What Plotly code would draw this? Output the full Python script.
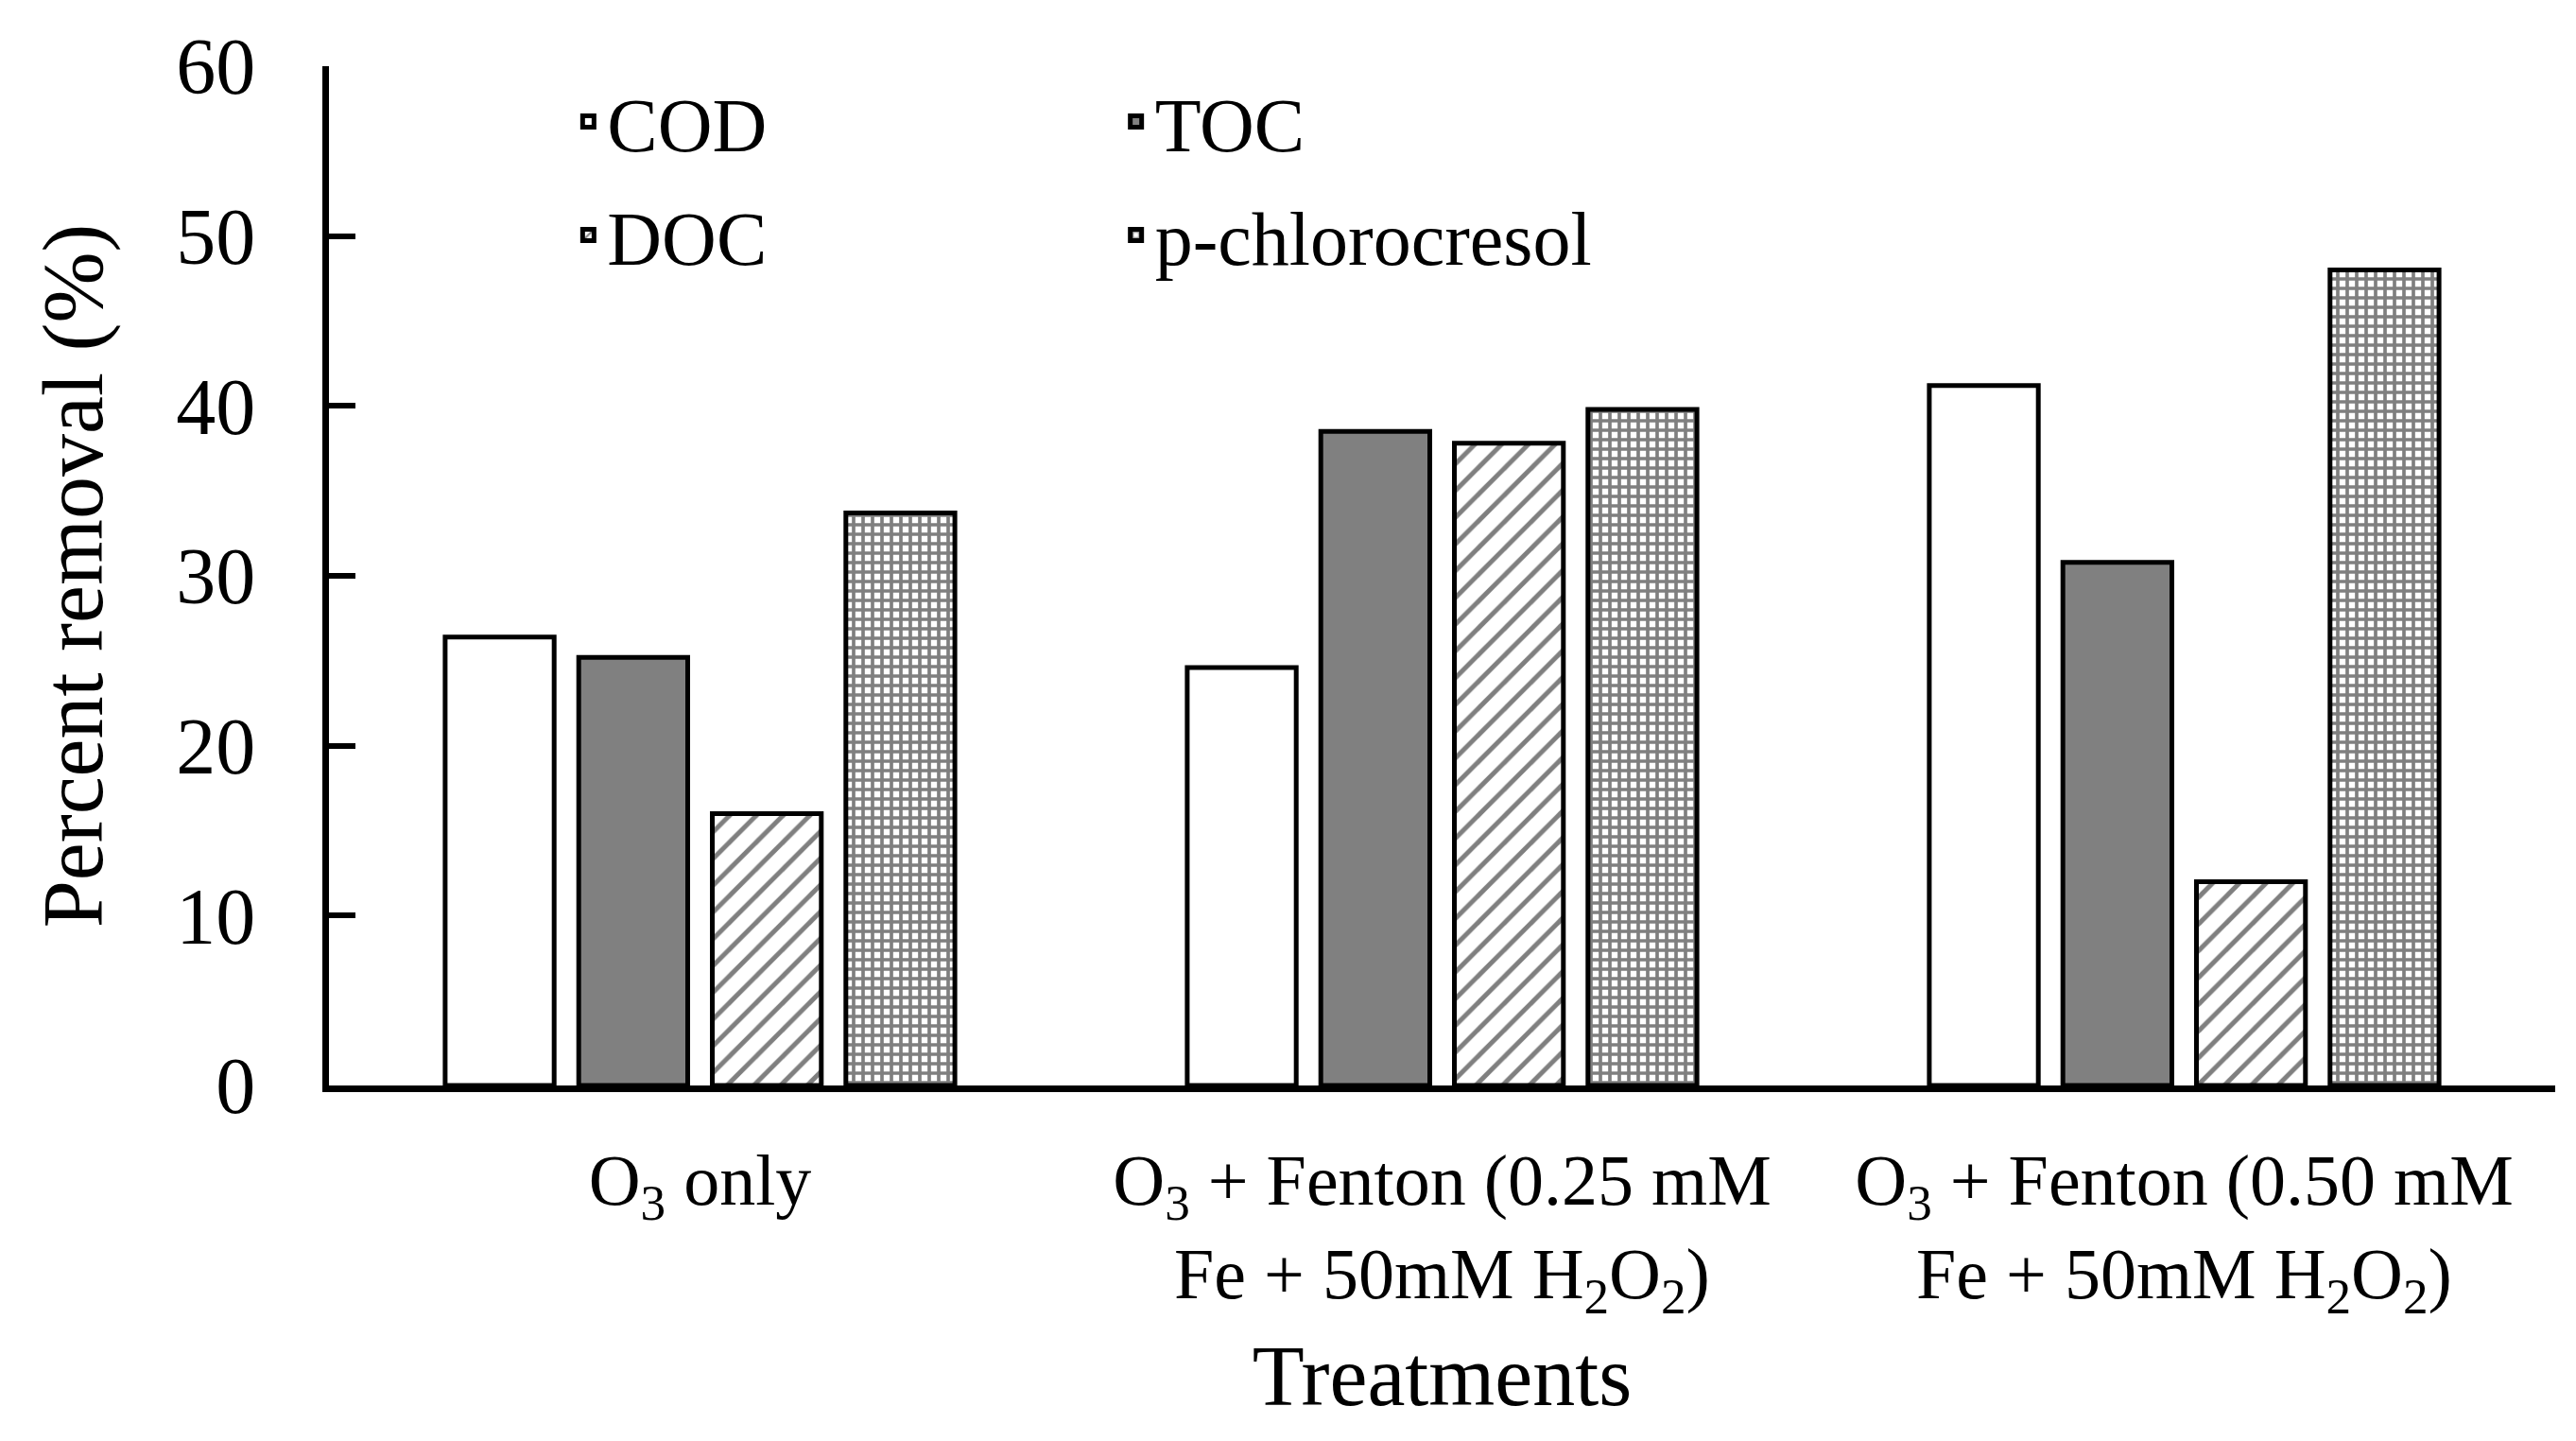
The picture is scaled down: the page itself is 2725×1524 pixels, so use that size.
import plotly.graph_objects as go

# Data
treatments = [
    "O<sub>3</sub> only",
    "O<sub>3</sub> + Fenton (0.25 mM<br>Fe + 50mM H<sub>2</sub>O<sub>2</sub>)",
    "O<sub>3</sub> + Fenton (0.50 mM<br>Fe + 50mM H<sub>2</sub>O<sub>2</sub>)",
]
cod = [26.4, 24.6, 41.2]
toc = [25.2, 38.5, 30.8]
doc = [16.0, 37.8, 12.0]
pcc = [33.7, 39.8, 48.0]

font = "Liberation Serif"

fig = go.Figure()

series = [
    ("COD", cod, dict(color="white"), "legend"),
    ("TOC", toc, dict(color="#808080"), "legend2"),
    ("DOC", doc, dict(color="white", pattern=dict(shape="/", size=20, solidity=0.25,
                                                   fgcolor="black", bgcolor="white")), "legend"),
    ("p-chlorocresol", pcc, dict(color="white", pattern=dict(shape="+", size=10, solidity=0.6,
                                                             fgcolor="black", bgcolor="white")), "legend2"),
]

for name, vals, marker, leg in series:
    fig.add_trace(go.Bar(
        name=name,
        x=treatments,
        y=vals,
        marker=dict(line=dict(color="black", width=5), **marker),
        legend=leg,
        legendgroup=name,
    ))

legend_style = dict(
    font=dict(family=font, size=80, color="black"),
    bgcolor="rgba(0,0,0,0)",
    yanchor="top", y=1.0,
    xanchor="left",
    tracegroupgap=13,
    orientation="v",
)

fig.update_layout(
    width=2725,
    height=1524,
    margin=dict(l=340, r=30, t=62, b=384, pad=0),
    paper_bgcolor="white",
    plot_bgcolor="white",
    barmode="group",
    bargap=0.28,
    bargroupgap=0.184,
    font=dict(family=font, color="black"),
    legend=dict(x=0.108, **legend_style),
    legend2=dict(x=0.354, **legend_style),
)

fig.update_xaxes(
    type="category",
    showline=True, linecolor="black", linewidth=7,
    ticks="", showgrid=False,
    tickfont=dict(family=font, size=76, color="black"),
    ticklabelstandoff=28,
    title=dict(text="Treatments", font=dict(family=font, size=90, color="black"), standoff=26),
)

fig.update_yaxes(
    range=[0, 60], dtick=10,
    showline=True, linecolor="black", linewidth=7,
    ticks="inside", ticklen=28, tickwidth=6, tickcolor="black",
    showgrid=False, zeroline=False,
    tickfont=dict(family=font, size=84, color="black"),
    ticklabelstandoff=54,
    title=dict(text="Percent removal (%)", font=dict(family=font, size=90, color="black"), standoff=50),
)

fig.write_html("out.html")
